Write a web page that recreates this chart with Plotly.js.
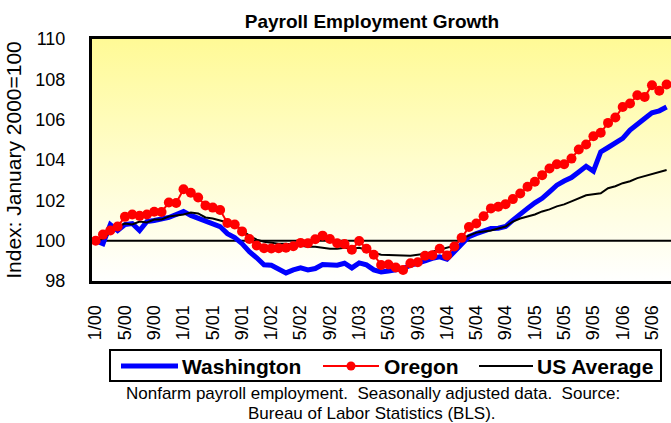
<!DOCTYPE html>
<html>
<head>
<meta charset="utf-8">
<script src="https://cdn.plot.ly/plotly-3.0.1.min.js"></script>
<style>
  html, body { margin: 0; padding: 0; background: #ffffff; overflow: hidden; }
  #wrap { position: relative; width: 671px; height: 423px; }
  #bg { position: absolute; left: 92px; top: 39px; width: 579px; height: 242px;
        background: linear-gradient(to bottom, #FFFA96 0%, #FFFDCC 50%, #FFFFFF 100%); }
  #chart { position: absolute; left: 0; top: 0; width: 671px; height: 423px; }
</style>
</head>
<body>
<div id="wrap"><div id="bg"></div><div id="chart"></div></div>
<script>
// Months 1/00 .. 7/06
const years = ["00","01","02","03","04","05","06"];
const months = [];
for (const yy of years) {
  for (let m = 1; m <= 12; m++) {
    if (yy === "06" && m > 7) break;
    months.push(m + "/" + yy);
  }
}

const washington = [
  100.0, 99.85, 100.8, 100.5, 100.8, 100.85, 100.5, 100.95, 101.0, 101.05, 101.15, 101.3,
  101.45, 101.25, 101.1, 101.0, 100.85, 100.7, 100.35, 100.15, 99.85, 99.45, 99.15, 98.8,
  98.78, 98.6, 98.4, 98.55, 98.65, 98.55, 98.62, 98.82, 98.8, 98.78, 98.88, 98.65,
  98.9, 98.8, 98.55, 98.45, 98.5, 98.55, 98.62, 98.78, 98.87, 99.0, 99.12, 99.2,
  99.08, 99.45, 99.85, 100.2, 100.35, 100.5, 100.6, 100.62, 100.7, 101.02, 101.35, 101.6,
  101.88, 102.1, 102.42, 102.75, 102.96, 103.13, 103.41, 103.69, 103.45, 104.4, 104.62, 104.82,
  105.07, 105.48, 105.81, 106.06, 106.34, 106.44, 106.63
];

const oregon = [
  100.0, 100.3, 100.5, 100.7, 101.18, 101.3, 101.23, 101.3, 101.43, 101.42, 101.89, 101.87,
  102.55, 102.38, 102.14, 101.74, 101.64, 101.52, 100.88, 100.8, 100.46, 100.08, 99.76, 99.63,
  99.61, 99.63, 99.65, 99.72, 99.89, 99.87, 100.07, 100.25, 100.08, 99.87, 99.83, 99.55,
  99.98, 99.6, 99.3, 98.79, 98.82, 98.67, 98.55, 98.88, 98.93, 99.25, 99.28, 99.6,
  99.27, 99.71, 100.14, 100.68, 100.85, 101.21, 101.6, 101.68, 101.81, 102.06, 102.34, 102.67,
  102.92, 103.25, 103.58, 103.79, 103.79, 104.07, 104.52, 104.77, 105.18, 105.35, 105.84, 106.11,
  106.63, 106.8, 107.21, 107.13, 107.71, 107.43, 107.74
];

const usAverage = [
  100.0, 100.1, 100.4, 100.7, 100.85, 100.8, 100.95, 100.9, 101.05, 101.05, 101.2, 101.25,
  101.3, 101.4, 101.35, 101.15, 101.1, 101.0, 100.9, 100.8, 100.5, 100.25, 100.05, 99.95,
  99.9, 99.85, 99.85, 99.8, 99.75, 99.7, 99.7, 99.65, 99.6, 99.6, 99.65, 99.6,
  99.65, 99.55, 99.4, 99.3, 99.3, 99.28, 99.27, 99.25, 99.3, 99.35, 99.45, 99.55,
  99.65, 99.75, 100.1, 100.25, 100.4, 100.45, 100.5, 100.6, 100.7, 100.95, 101.1, 101.2,
  101.3, 101.45, 101.55, 101.7, 101.8, 101.95, 102.1, 102.25, 102.3, 102.35, 102.6, 102.7,
  102.85, 102.95, 103.1, 103.2, 103.3, 103.4, 103.5
];

const seriesNames = ["Washington", "Oregon", "US Average"];
const yTicks = [98, 100, 102, 104, 106, 108, 110];
const xTicks = months.filter((_, i) => i % 4 === 0);

const FONT = "Liberation Sans, Arial, sans-serif";

// plot-area pixel geometry -> paper coords (for legend box and footnote)
const L = 92, T = 39, W = 579, H = 242;
const px = v => (v - L) / W;
const py = v => (T + H - v) / H;

const traces = [
  { x: months, y: washington, name: seriesNames[0], type: "scatter", mode: "lines",
    line: { color: "#0000FF", width: 5 }, showlegend: false },
  { x: months, y: usAverage, name: seriesNames[2], type: "scatter", mode: "lines",
    line: { color: "#000000", width: 2 }, showlegend: false },
  { x: months, y: oregon, name: seriesNames[1], type: "scatter", mode: "lines+markers",
    line: { color: "#FF0000", width: 2 }, marker: { color: "#FF0000", size: 10 }, showlegend: false }
];

const legY = 366;
const shapes = [
  { type: "line", xref: "paper", yref: "y", x0: 0, x1: 1, y0: 100, y1: 100,
    line: { color: "#000000", width: 2 }, layer: "below" },
  // legend box
  { type: "rect", xref: "paper", yref: "paper", x0: px(110), x1: px(661), y0: py(381), y1: py(350),
    line: { color: "#000000", width: 2 }, fillcolor: "#FFFFFF" },
  { type: "line", xref: "paper", yref: "paper", x0: px(121), x1: px(178), y0: py(legY), y1: py(legY),
    line: { color: "#0000FF", width: 5 } },
  { type: "line", xref: "paper", yref: "paper", x0: px(323), x1: px(379), y0: py(legY), y1: py(legY),
    line: { color: "#FF0000", width: 2 } },
  { type: "circle", xref: "paper", yref: "paper", x0: px(346.5), x1: px(355.5), y0: py(legY + 4.5), y1: py(legY - 4.5),
    line: { color: "#FF0000", width: 0 }, fillcolor: "#FF0000" },
  { type: "line", xref: "paper", yref: "paper", x0: px(479), x1: px(533), y0: py(legY), y1: py(legY),
    line: { color: "#000000", width: 2 } }
];

const legFont = { family: FONT, size: 21, color: "#000000", weight: "bold" };
const annotations = [
  { text: seriesNames[0], xref: "paper", yref: "paper", x: px(180), y: py(legY), xanchor: "left", yanchor: "middle", showarrow: false, font: legFont },
  { text: seriesNames[1], xref: "paper", yref: "paper", x: px(382), y: py(legY), xanchor: "left", yanchor: "middle", showarrow: false, font: legFont },
  { text: seriesNames[2], xref: "paper", yref: "paper", x: px(535), y: py(legY), xanchor: "left", yanchor: "middle", showarrow: false, font: legFont },
  { text: "Nonfarm payroll employment.\u00A0 Seasonally adjusted data.\u00A0 Source:", xref: "paper", yref: "paper",
    x: px(373), y: py(393), xanchor: "center", yanchor: "middle", showarrow: false,
    font: { family: FONT, size: 17, color: "#000000" } },
  { text: "Bureau of Labor Statistics (BLS).", xref: "paper", yref: "paper",
    x: px(372), y: py(414), xanchor: "center", yanchor: "middle", showarrow: false,
    font: { family: FONT, size: 17, color: "#000000" } }
];

const layout = {
  width: 671, height: 423,
  margin: { l: L, r: 671 - L - W, t: T, b: 423 - T - H, pad: 0 },
  paper_bgcolor: "rgba(0,0,0,0)",
  plot_bgcolor: "rgba(0,0,0,0)",
  font: { family: FONT, color: "#000000" },
  title: { text: "Payroll Employment Growth", font: { family: FONT, size: 19, weight: "bold", color: "#000000" },
           x: 372 / 671, xref: "container", xanchor: "center", y: 1 - 21 / 423, yref: "container", yanchor: "middle" },
  xaxis: {
    type: "category", range: [-0.5, 78.6], autorange: false,
    tickmode: "array", tickvals: xTicks, ticktext: xTicks, tickangle: -90,
    tickfont: { family: FONT, size: 18 }, ticks: "", ticklabelstandoff: 14,
    showgrid: false, zeroline: false,
    showline: true, mirror: true, linecolor: "#000000", linewidth: 3
  },
  yaxis: {
    range: [98, 110], autorange: false,
    tickmode: "array", tickvals: yTicks, ticktext: yTicks.map(String),
    tickfont: { family: FONT, size: 18 }, ticks: "", ticklabelstandoff: 20,
    showgrid: false, zeroline: false,
    showline: true, mirror: false, linecolor: "#000000", linewidth: 3,
    title: { text: "Index: January 2000=100", font: { family: FONT, size: 21 }, standoff: 9 }
  },
  shapes: shapes,
  annotations: annotations,
  showlegend: false
};

Plotly.newPlot("chart", traces, layout, { displayModeBar: false, staticPlot: true });
</script>
</body>
</html>
